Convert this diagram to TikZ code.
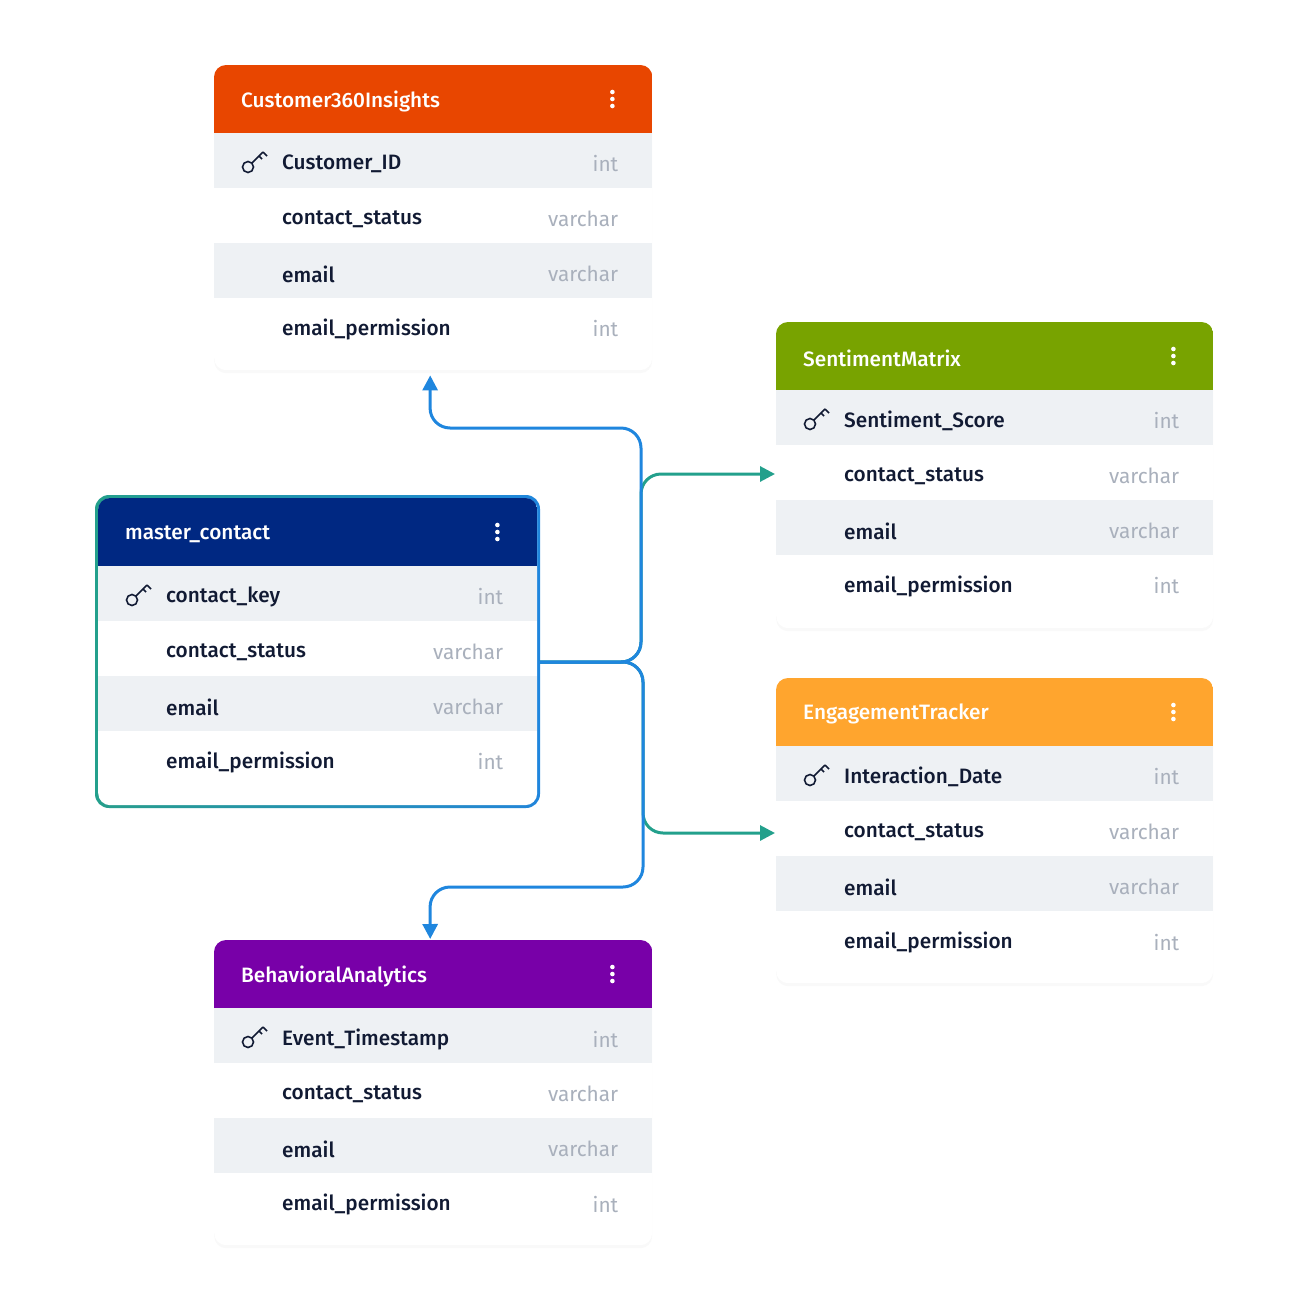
\documentclass[tikz,border=0pt]{standalone}
\usepackage{fontspec}
\setmainfont{Fira Sans}[UprightFont=* Medium]
\newfontfamily\typefont{Fira Sans}
\usetikzlibrary{arrows.meta,shadows}

\definecolor{rowgray}{HTML}{EEF1F4}
\definecolor{typegray}{HTML}{A9B0BC}
\definecolor{namecol}{HTML}{111A33}
\definecolor{hdorange}{HTML}{E84600}
\definecolor{hdgreen}{HTML}{78A300}
\definecolor{hdamber}{HTML}{FFA52E}
\definecolor{hdpurple}{HTML}{7800A8}
\definecolor{hdnavy}{HTML}{002882}
\definecolor{linkblue}{HTML}{1F86DE}
\definecolor{linkteal}{HTML}{23A08C}

\tikzset{
  cardbox/.style={fill=white, rounded corners=12pt, inner sep=0pt, anchor=north west,
    drop shadow={opacity=0.05, shadow xshift=0pt, shadow yshift=-3pt}},
  fieldtext/.style={anchor=west, inner sep=0pt, text=namecol, font=\fontsize{20.8}{24}\selectfont},
  typetext/.style={anchor=east, inner sep=0pt, text=typegray, font=\typefont\fontsize{20.8}{24}\selectfont},
  link/.style={line width=3pt, rounded corners=20pt, -{Triangle[length=15pt,width=15pt]}}
}

% name, x, y, width, height, colour, title, key field
\newcommand{\erdcard}[8]{%
  \node[cardbox, minimum width=#4pt, minimum height=#5pt] (#1) at (#2,#3) {};
  \begin{scope}
    \clip[rounded corners=12pt] (#1.north west) rectangle (#1.south east);
    \fill[#6] (#1.north west) rectangle ([yshift=-68pt]#1.north east);
    \fill[rowgray] ([yshift=-68pt]#1.north west) rectangle ([yshift=-123pt]#1.north east);
    \fill[rowgray] ([yshift=-178pt]#1.north west) rectangle ([yshift=-233pt]#1.north east);
  \end{scope}
  \node[anchor=west, inner sep=0pt, text=white, font=\fontsize{20.8}{24}\selectfont] (#1-title)
    at ([xshift=27pt,yshift=-36pt]#1.north west) {#7};
  \foreach \dy in {-7,0,7}
    \fill[white] ([xshift=-40pt,yshift=-34pt+\dy pt]#1.north east) circle (2.3pt);
  \foreach \fname/\ftype [count=\i from 0] in {#8/int, contact\_status/varchar, email/varchar, email\_permission/int} {
    \node[fieldtext] (#1-f\i) at ([xshift=68pt,yshift=-99pt-55*\i pt]#1.north west) {\fname};
    \node[typetext] (#1-t\i) at ([xshift=-34pt,yshift=-99pt-55*\i pt]#1.north east) {\ftype};
  }
  % key icon
  \begin{scope}[shift={([xshift=34pt,yshift=-102pt]#1.north west)}, line width=1.6pt, namecol]
    \draw (0,0) circle (5.5pt);
    \draw (4,-4) -- (15,-15) (15,-15) -- (19,-11) (11,-11) -- (14,-8);
  \end{scope}
}

\begin{document}
\begin{tikzpicture}[x=1pt,y=-1pt]
  \useasboundingbox (0,0) rectangle (1312,1312);

  %cards
  \erdcard{cust}{214}{65}{438}{305}{hdorange}{Customer360Insights}{Customer\_ID}
  \erdcard{sent}{776}{322}{437}{306}{hdgreen}{SentimentMatrix}{Sentiment\_Score}
  \erdcard{eng}{776}{678}{437}{305}{hdamber}{EngagementTracker}{Interaction\_Date}
  \erdcard{beh}{214}{940}{438}{305}{hdpurple}{BehavioralAnalytics}{Event\_Timestamp}

  \shade[rounded corners=14pt, left color=linkteal, right color=linkblue] (95,495) rectangle (540,808);
  \erdcard{master}{98}{498}{439}{307}{hdnavy}{master\_contact}{contact\_key}

  %links
  \coordinate (mc) at (539,662);
  \coordinate (sentin) at (775,474);
  \coordinate (engin) at (775,833);
  \draw[link, linkteal] (mc) -- (641,662) -- (641,474) -- (sentin);
  \draw[link, linkteal] (mc) -- (643,662) -- (643,833) -- (engin);
  \draw[link, linkblue] (mc) -- (641,662) -- (641,428) -- (430,428) -- ([xshift=-3pt,yshift=-5pt]cust.south);
  \draw[link, linkblue] (mc) -- (643,662) -- (643,887) -- (430,887) -- ([xshift=-3pt,yshift=1pt]beh.north);
\end{tikzpicture}
\end{document}
